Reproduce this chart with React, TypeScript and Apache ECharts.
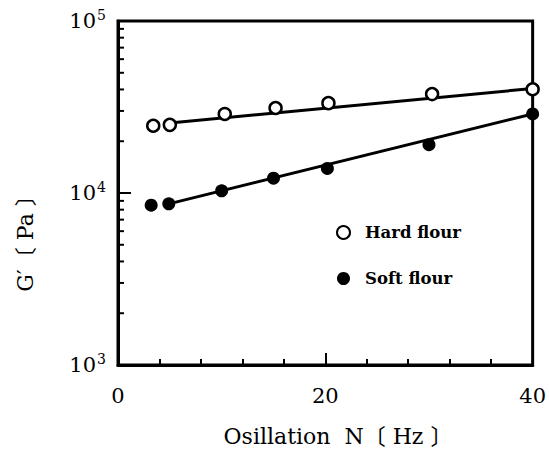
import React, { useEffect, useRef } from "react";
import * as echarts from "echarts";

// Data
const hardX = [3.4, 5, 10.3, 15.2, 20.3, 30.3, 40];
const hardY = [24600, 24900, 28800, 31200, 33300, 37600, 40100];
const softX = [3.2, 4.9, 10, 15, 20.2, 30, 40];
const softY = [8500, 8650, 10300, 12200, 13900, 19100, 28800];
// Regression lines (endpoints)
const hardFitX = [5, 40];
const hardFitY = [25500, 40500];
const softFitX = [4.9, 40];
const softFitY = [8650, 28800];
// Log-axis minor tick values
const minorTickValues = [
  2000, 3000, 4000, 5000, 6000, 7000, 8000, 9000,
  20000, 30000, 40000, 50000, 60000, 70000, 80000, 90000,
];
const xTicks = [0, 20, 40];

const serif = '"DejaVu Serif", "Liberation Serif", serif';
const cjk = '"DejaVu Serif", "Noto Sans CJK JP", serif';

const zip = (xs: number[], ys: number[]) => xs.map((x, i) => [x, ys[i]]);

export default function App() {
  const ref = useRef<HTMLDivElement>(null);
  useEffect(() => {
    if (!ref.current) return;
    const chart = echarts.init(ref.current, null, { renderer: "svg" });
    chart.setOption({
      animation: false,
      backgroundColor: "#fff",
      grid: {
        left: 118,
        right: 11,
        top: 21,
        bottom: 88,
        show: true,
        borderColor: "#000",
        borderWidth: 3,
      },
      legend: {
        data: ["Hard flour", "Soft flour"],
        orient: "vertical",
        left: 331,
        top: 219,
        itemGap: 29,
        itemWidth: 13,
        itemHeight: 13,
        textStyle: {
          fontFamily: serif,
          fontWeight: "bold",
          fontSize: 16.5,
          color: "#000",
          padding: [0, 0, 0, 10],
        },
      },
      xAxis: {
        type: "value",
        min: xTicks[0],
        max: xTicks[xTicks.length - 1],
        interval: 20,
        axisLine: { show: true, lineStyle: { color: "#000", width: 3 } },
        axisTick: { show: true, inside: true, length: 12, lineStyle: { color: "#000", width: 2 } },
        minorTick: { show: true, splitNumber: 5, length: 6, lineStyle: { color: "#000", width: 2 } },
        splitLine: { show: false },
        minorSplitLine: { show: false },
        axisLabel: { fontFamily: serif, fontSize: 21, color: "#000", margin: 20 },
      },
      yAxis: {
        type: "log",
        logBase: 10,
        min: 1000,
        max: 100000,
        axisLine: { show: true, lineStyle: { color: "#000", width: 3 } },
        axisTick: { show: true, inside: true, length: 13, lineStyle: { color: "#000", width: 2 } },
        splitLine: { show: false },
        axisLabel: {
          margin: 12,
          formatter: (v: number) => `{b|10}{s|${Math.round(Math.log10(v))}}`,
          rich: {
            b: { fontFamily: serif, fontSize: 21, color: "#000" },
            s: { fontFamily: serif, fontSize: 14, color: "#000", padding: [0, 0, 12, 1] },
          },
        },
      },
      graphic: [
        {
          type: "text",
          x: 25,
          y: 238,
          rotation: Math.PI / 2,
          style: {
            text: "G′〔 Pa 〕",
            font: `22px ${cjk}`,
            fill: "#000",
            align: "center",
            verticalAlign: "middle",
          },
        },
        {
          type: "text",
          x: 338,
          y: 436,
          style: {
            text: "Osillation  N〔 Hz 〕",
            font: `22px ${cjk}`,
            fill: "#000",
            align: "center",
            verticalAlign: "middle",
          },
        },
      ],
      series: [
        {
          name: "hardFit",
          type: "line",
          data: zip(hardFitX, hardFitY),
          symbol: "none",
          lineStyle: { color: "#000", width: 3 },
          z: 1,
        },
        {
          name: "softFit",
          type: "line",
          data: zip(softFitX, softFitY),
          symbol: "none",
          lineStyle: { color: "#000", width: 3 },
          z: 1,
        },
        {
          name: "Hard flour",
          type: "scatter",
          data: zip(hardX, hardY),
          symbol: "circle",
          symbolSize: 12,
          itemStyle: { color: "#fff", borderColor: "#000", borderWidth: 2.5, opacity: 1 },
          z: 3,
        },
        {
          name: "Soft flour",
          type: "scatter",
          data: zip(softX, softY),
          symbol: "circle",
          symbolSize: 13,
          itemStyle: { color: "#000", borderColor: "#000", borderWidth: 0, opacity: 1 },
          z: 3,
        },
        {
          name: "minorTicks",
          type: "custom",
          data: minorTickValues.map((v) => [0, v]),
          clip: false,
          silent: true,
          renderItem: (params: any, api: any) => {
            const p = api.coord([0, api.value(1)]);
            return {
              type: "line",
              shape: { x1: p[0], y1: p[1], x2: p[0] + 6, y2: p[1] },
              style: { stroke: "#000", lineWidth: 2 },
            };
          },
          z: 2,
        },
      ],
    });
    return () => chart.dispose();
  }, []);
  return (
    <div
      ref={ref}
      style={{ position: "fixed", left: 0, top: 0, width: 549, height: 453 }}
    />
  );
}
